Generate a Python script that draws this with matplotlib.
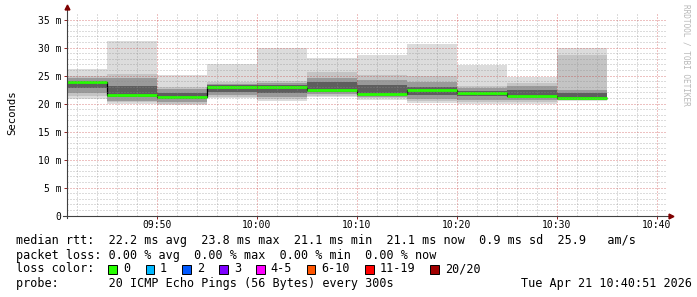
import numpy as np
import matplotlib
matplotlib.use('Agg')
from matplotlib import pyplot as plt
from matplotlib.patches import Rectangle

# 5 minute rounds, start time of each round
round_start = ['09:40', '09:45', '09:50', '09:55', '10:00', '10:05',
               '10:10', '10:15', '10:20', '10:25', '10:30']

# smoke: sorted ping spread per round (ms)
rtt_min = [20.8, 20.0, 19.7, 20.9, 20.4, 21.2, 20.7, 20.1, 19.9, 20.0, 20.5]
rtt_p05 = [21.3, 20.2, 20.0, 21.2, 20.8, 21.4, 20.9, 20.4, 20.3, 20.3, 20.6]
rtt_p10 = [21.8, 20.5, 20.3, 21.5, 21.1, 21.7, 21.1, 20.8, 20.7, 20.7, 20.7]
rtt_p25 = [22.8, 21.2, 20.8, 22.0, 21.8, 22.0, 21.5, 21.6, 21.3, 21.1, 20.9]
rtt_median = [23.8, 21.5, 21.1, 23.0, 23.0, 22.4, 21.7, 22.5, 21.9, 21.4, 21.0]
rtt_p75 = [24.1, 23.2, 21.9, 23.3, 23.3, 23.8, 23.3, 23.0, 22.3, 22.5, 21.8]
rtt_p90 = [24.5, 24.5, 22.6, 23.5, 23.6, 24.6, 24.2, 23.8, 22.8, 23.2, 22.4]
rtt_p95 = [25.0, 25.3, 23.0, 23.8, 24.0, 25.6, 25.1, 25.0, 23.1, 23.7, 28.7]
rtt_max = [26.1, 31.1, 25.1, 27.0, 30.0, 28.1, 28.7, 30.6, 26.9, 24.8, 30.0]

y_ticks = [0, 5, 10, 15, 20, 25, 30, 35]
y_ticklabels = ['0', '5 m', '10 m', '15 m', '20 m', '25 m', '30 m', '35 m']
x_ticklabels = ['09:50', '10:00', '10:10', '10:20', '10:30', '10:40']

legend_rows = [
    'median rtt:  22.2 ms avg  23.8 ms max  21.1 ms min  21.1 ms now  0.9 ms sd  25.9   am/s',
    'packet loss: 0.00 % avg  0.00 % max  0.00 % min  0.00 % now',
    'loss color:',
    'probe:       20 ICMP Echo Pings (56 Bytes) every 300s',
]
loss_labels = ['0', '1', '2', '3', '4-5', '6-10', '11-19', '20/20']
loss_colors = ['#26ff00', '#00b8ff', '#0059ff', '#7e00ff', '#ff00ff',
               '#ff5500', '#ff0000', '#a10000']
stamp = 'Tue Apr 21 10:40:51 2026'


def to_min(s):
    ''' minutes since 09:00 '''
    h, m = s.split(':')
    return (int(h) - 9) * 60 + int(m)


mono = 'DejaVu Sans Mono'
plt.rcParams['font.family'] = mono

W, H = 697, 297
fig = plt.figure(figsize=(W / 100, H / 100), dpi=100)
fig.patch.set_facecolor('white')

# plot area in pixels
x0, x1 = 67, 667
ytop, ybot = 13.9, 215.5
ax = fig.add_axes([x0 / W, 1 - ybot / H, (x1 - x0) / W, (ybot - ytop) / H])
ax.set_xlim(41, 101)
ax.set_ylim(0, 36)

edges = np.array([to_min(t) for t in round_start] + [to_min(round_start[-1]) + 5])

layers = [(rtt_min, rtt_max, '#dcdcdc'),
          (rtt_p05, rtt_p95, '#c4c4c4'),
          (rtt_p10, rtt_p90, '#9a9a9a'),
          (rtt_p25, rtt_p75, '#5e5e5e')]
for lo, hi, c in layers:
    ax.stairs(hi, edges, baseline=lo, fill=True, color=c, lw=0, zorder=1)

# median: thin black steps, green bars on top
ax.stairs(rtt_median, edges, baseline=None, color='black', lw=0.9, zorder=3)
ax.hlines(rtt_median, edges[:-1], edges[1:], colors='#26ff00', lw=2.0, zorder=4)

# grid (rrdtool style, dotted, drawn over the graph)
dot = (0, (1, 2))
gkw = dict(lw=0.72, ls=dot, zorder=5)
for t in np.arange(42, 101, 2):
    if t % 10 == 0:
        continue
    ax.axvline(t, color='#8c8c8c', alpha=0.6, **gkw)
for v in range(1, 36):
    if v % 5 == 0:
        continue
    ax.axhline(v, color='#8c8c8c', alpha=0.6, **gkw)
for t in range(50, 101, 10):
    ax.axvline(t, color='#c02020', alpha=0.55, **gkw)
for v in range(5, 36, 5):
    ax.axhline(v, color='#c02020', alpha=0.55, **gkw)

for s in ax.spines.values():
    s.set_visible(False)
ax.set_facecolor('white')

# axes with arrows
ax.plot([41, 41], [-0.5, 36.9], color='#404040', lw=0.8, clip_on=False, zorder=6)
ax.plot([40.6, 101.2], [0, 0], color='#404040', lw=0.8, clip_on=False, zorder=6)
ax.plot([41], [37.3], marker='^', ms=3.5, color='#7f0000', clip_on=False, zorder=7)
ax.plot([101.4], [0], marker='>', ms=3.5, color='#7f0000', clip_on=False, zorder=7)

ax.set_yticks(y_ticks)
ax.set_yticklabels(y_ticklabels, fontsize=7, family=mono)
ax.set_xticks([to_min(t) for t in x_ticklabels])
ax.set_xticklabels(x_ticklabels, fontsize=7, family=mono)
ax.tick_params(axis='both', length=2, width=0.6, color='#7f0000', pad=2)
ax.tick_params(axis='x', pad=1.5)

fig.text(12 / W, 1 - 113 / H, 'Seconds', rotation=90, fontsize=7.7,
         ha='center', va='center', family=mono)
fig.text(686 / W, 1 - 4 / H, 'RRDTOOL / TOBI OETIKER', rotation=-90,
         fontsize=5.6, color='#b8b8b8', ha='center', va='top', family=mono)

# legend block
fs = 8.5
row_y = [240.7, 255.7, 269.0, 283.3]
for txt, yy in zip(legend_rows, row_y):
    fig.text(16 / W, 1 - yy / H, txt, fontsize=fs, ha='left', va='center', family=mono)

box_x = [108.3, 145.7, 182.3, 219.0, 256.0, 306.7, 365.0, 430.0]
lab_x = [123.3, 160.0, 196.7, 234.0, 270.7, 321.7, 380.0, 445.0]
for bx, lx, lab, c in zip(box_x, lab_x, loss_labels, loss_colors):
    fig.patches.append(Rectangle((bx / W, 1 - 273.5 / H), 8.5 / W, 8.5 / H,
                                 transform=fig.transFigure, facecolor=c,
                                 edgecolor='black', lw=0.7))
    fig.text(lx / W, 1 - row_y[2] / H, lab, fontsize=fs, ha='left', va='center', family=mono)

fig.text(692 / W, 1 - row_y[3] / H, stamp, fontsize=fs, ha='right', va='center', family=mono)

plt.savefig('out.png', dpi=100)
